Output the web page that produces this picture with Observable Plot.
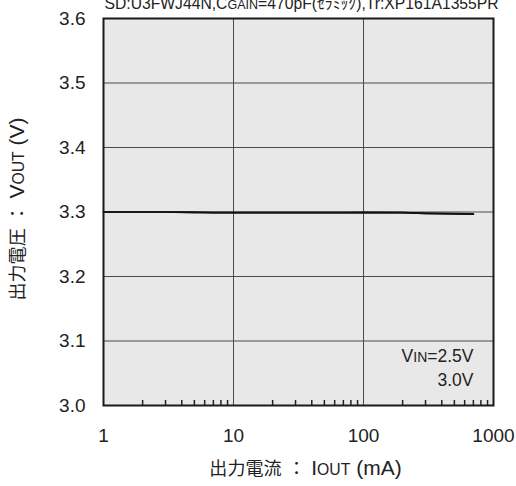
<!DOCTYPE html>
<html>
<head>
<meta charset="utf-8">
<script src="https://cdn.jsdelivr.net/npm/d3@7"></script>
<script src="https://cdn.jsdelivr.net/npm/@observablehq/plot@0.6"></script>
<style>
  html, body { margin: 0; padding: 0; background: white; }
</style>
</head>
<body>
<div id="chart"></div>
<script>
// Output current (mA) and output voltage (V) for each input voltage
const currents = [1, 2, 3, 5, 7, 10, 20, 30, 50, 70, 100, 200, 300, 500, 700];
const vout25 = [3.300, 3.300, 3.300, 3.300, 3.299, 3.299, 3.299, 3.299, 3.299, 3.299, 3.299, 3.299, 3.298, 3.297, 3.2965];
const vout30 = [3.300, 3.300, 3.300, 3.299, 3.299, 3.299, 3.299, 3.299, 3.299, 3.299, 3.2995, 3.299, 3.298, 3.2975, 3.297];
const seriesNames = ["2.5V", "3.0V"];

// Axis ticks
const xTicks = [1, 10, 100, 1000];
const xMinorTicks = [2, 3, 4, 5, 6, 7, 8, 9, 20, 30, 40, 50, 60, 70, 80, 90, 200, 300, 400, 500, 600, 700, 800, 900];
const yTicks = [3.0, 3.1, 3.2, 3.3, 3.4, 3.5, 3.6];

// Labels; text inside _{...} is set in small caps
const titleText = "SD:U3FWJ44N,C_{GAIN}=470pF(ｾﾗﾐｯｸ),Tr:XP161A1355PR";
const xLabel = "出力電流 ： I_{OUT} (mA)";
const yLabel = "出力電圧 ： V_{OUT} (V)";
const legendLines = ["V_{IN}=2.5V", "3.0V"];

const plain = s => s.replace(/_\{([^}]*)\}/g, "$1");

const rows = [];
currents.forEach((c, i) => {
  rows.push({vin: seriesNames[0], iout: c, vout: vout25[i]});
  rows.push({vin: seriesNames[1], iout: c, vout: vout30[i]});
});

const font = '"Liberation Sans", Arial, "Noto Sans CJK JP", sans-serif';
const gridColor = "#4a4a4a";
const ink = "#222";

const chart = Plot.plot({
  width: 516,
  height: 486,
  marginLeft: 103,
  marginRight: 23,
  marginTop: 18,
  marginBottom: 81,
  style: {fontFamily: font, fontSize: "19px", color: ink, background: "white"},
  x: {type: "log", domain: [1, 1000]},
  y: {domain: [3.0, 3.6]},
  marks: [
    Plot.frame({fill: "#e8e8e8", stroke: "none"}),
    Plot.gridX(xTicks.slice(1, -1), {stroke: gridColor, strokeOpacity: 1, strokeWidth: 1}),
    Plot.gridY(yTicks.slice(1, -1), {stroke: gridColor, strokeOpacity: 1, strokeWidth: 1}),
    Plot.axisX(xMinorTicks, {anchor: "bottom", tickSize: -5, fill: "none", stroke: ink, strokeWidth: 1.5, label: null}),
    Plot.axisX(xTicks, {anchor: "bottom", tickSize: 0, tickPadding: 23, tickFormat: d => String(d), label: null, fontSize: 19}),
    Plot.axisY(yTicks, {anchor: "left", tickSize: 0, tickPadding: 18, tickFormat: d3.format(".1f"), label: null, fontSize: 19}),
    Plot.line(rows, {x: "iout", y: "vout", z: "vin", stroke: "#111", strokeWidth: 1.7}),
    Plot.frame({stroke: "#1a1a1a", strokeWidth: 2}),
    Plot.text([plain(titleText)], {frameAnchor: "top-left", text: d => d, textAnchor: "start", lineAnchor: "bottom", dx: 1, dy: -10, fontSize: 15.7, fill: ink}),
    Plot.text([plain(xLabel)], {frameAnchor: "bottom", text: d => d, textAnchor: "middle", lineAnchor: "middle", dx: 7, dy: 63, fontSize: 21, fill: ink}),
    Plot.text([plain(yLabel)], {frameAnchor: "left", text: d => d, textAnchor: "middle", lineAnchor: "middle", rotate: -90, dx: -86, dy: -3, fontSize: 21, fill: ink}),
    Plot.text([plain(legendLines[0])], {frameAnchor: "bottom-right", text: d => d, textAnchor: "end", lineAnchor: "middle", dx: -20, dy: -49, fontSize: 17.5, fill: ink}),
    Plot.text([plain(legendLines[1])], {frameAnchor: "bottom-right", text: d => d, textAnchor: "end", lineAnchor: "middle", dx: -20, dy: -25, fontSize: 17.5, fill: ink})
  ]
});

// Rebuild labels: small-caps segments and Japanese runs become sized tspans
const marked = [titleText, xLabel, yLabel, ...legendLines];
const cjk = /([\u3000-\u30ff\u4e00-\u9fff\uff01-\uff1f]+)/;
d3.select(chart).selectAll("text").each(function () {
  const el = d3.select(this);
  const src = marked.find(m => plain(m) === this.textContent);
  if (!src) return;
  const isLabel = src === xLabel || src === yLabel;
  if (src === plain(src) && !isLabel) return;
  el.text(null);
  const add = (s, small) => {
    s.split(cjk).forEach(part => {
      if (!part) return;
      const t = el.append("tspan").text(part);
      if (small) t.attr("font-size", isLabel ? "0.75em" : "0.8em");
      else if (isLabel && cjk.test(part)) t.attr("font-size", "0.86em");
    });
  };
  const re = /_\{([^}]*)\}/g;
  let last = 0, m;
  while ((m = re.exec(src)) !== null) {
    if (m.index > last) add(src.slice(last, m.index), false);
    add(m[1], true);
    last = re.lastIndex;
  }
  if (last < src.length) add(src.slice(last), false);
});

document.getElementById("chart").appendChild(chart);
</script>
</body>
</html>
